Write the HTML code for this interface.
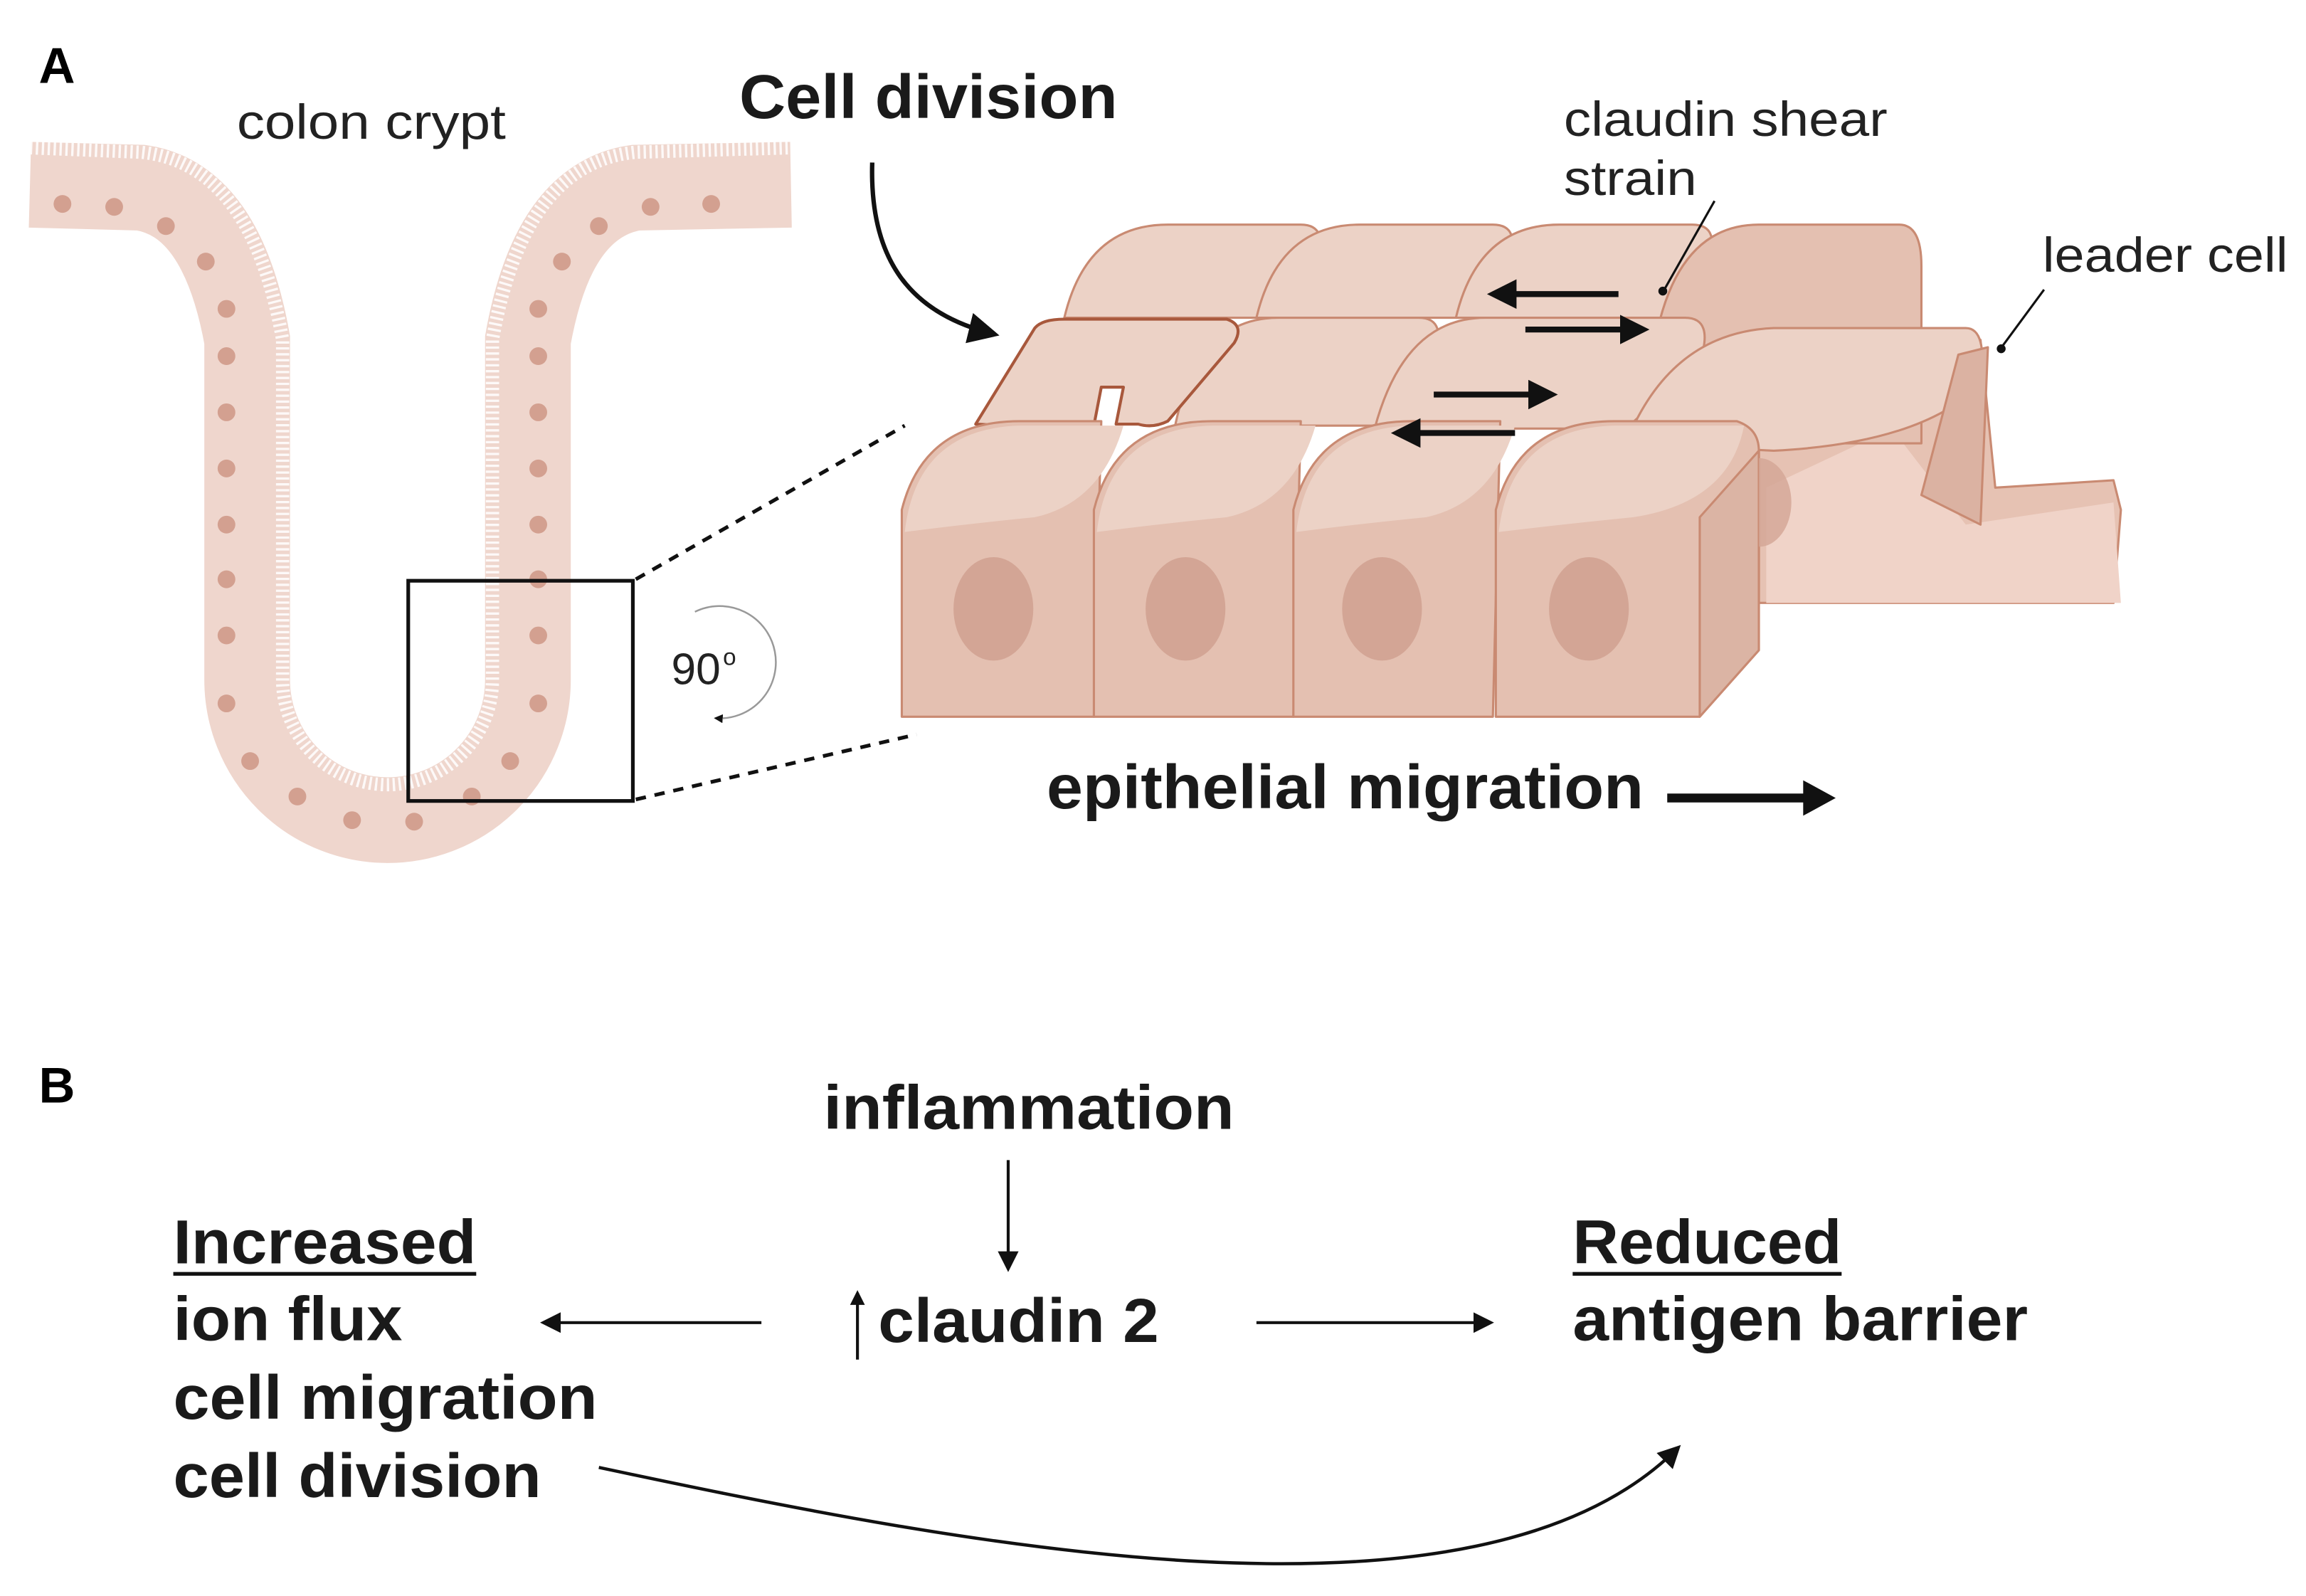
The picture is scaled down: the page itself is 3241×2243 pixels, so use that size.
<!DOCTYPE html>
<html><head><meta charset="utf-8"><style>html,body{margin:0;padding:0;background:#fff}svg{display:block}</style></head>
<body>
<svg width="3241" height="2243" viewBox="0 0 1560 1080" xmlns="http://www.w3.org/2000/svg" font-family="Liberation Sans, sans-serif">
<defs>
<marker id="ah" viewBox="0 0 10 10" refX="8" refY="5" markerWidth="5" markerHeight="5" orient="auto"><path d="M0,0 L10,5 L0,10 Z" fill="#111"/></marker>
<marker id="ah2" viewBox="0 0 10 10" refX="8" refY="5" markerWidth="7" markerHeight="7" orient="auto"><path d="M0,0 L10,5 L0,10 Z" fill="#111"/></marker>
</defs>
<rect width="1560" height="1080" fill="#fff"/>
<!-- Panel A -->
<text x="26" y="56" font-size="34" font-weight="bold">A</text>
<text x="160" y="94" font-size="33" fill="#222" textLength="182" lengthAdjust="spacingAndGlyphs">colon crypt</text>
<!-- crypt -->
<path d="M20,125 L95,127 Q150,135 167,230 L167,460 A95,95 0 0 0 357,460 L357,230 Q374,135 430,127 L535,125" fill="none" stroke="#efd6cd" stroke-width="58"/>
<path d="M20,100 L95,103 Q170,110 191,230 L191,460 A71,71 0 0 0 333,460 L333,230 Q354,110 430,103 L535,100" fill="none" stroke="#fff" stroke-width="9" stroke-dasharray="1.6 2.4" opacity="0.85"/>
<g fill="#d3a090">
<circle cx="42" cy="138" r="6"/><circle cx="77" cy="140" r="6"/><circle cx="112" cy="153" r="6"/><circle cx="139" cy="177" r="6"/>
<circle cx="481" cy="138" r="6"/><circle cx="440" cy="140" r="6"/><circle cx="405" cy="153" r="6"/><circle cx="380" cy="177" r="6"/>
<circle cx="153" cy="209" r="6"/><circle cx="153" cy="241" r="6"/><circle cx="153" cy="279" r="6"/><circle cx="153" cy="317" r="6"/><circle cx="153" cy="355" r="6"/><circle cx="153" cy="392" r="6"/><circle cx="153" cy="430" r="6"/><circle cx="153" cy="476" r="6"/>
<circle cx="364" cy="209" r="6"/><circle cx="364" cy="241" r="6"/><circle cx="364" cy="279" r="6"/><circle cx="364" cy="317" r="6"/><circle cx="364" cy="355" r="6"/><circle cx="364" cy="392" r="6"/><circle cx="364" cy="430" r="6"/><circle cx="364" cy="476" r="6"/>
<circle cx="169" cy="515" r="6"/><circle cx="201" cy="539" r="6"/><circle cx="238" cy="555" r="6"/><circle cx="280" cy="556" r="6"/><circle cx="319" cy="539" r="6"/><circle cx="345" cy="515" r="6"/>
</g>
<rect x="276" y="393" width="152" height="149" fill="none" stroke="#111" stroke-width="2.5"/>
<line x1="430" y1="392" x2="612" y2="288" stroke="#111" stroke-width="2.5" stroke-dasharray="7 6"/>
<line x1="430" y1="541" x2="620" y2="497" stroke="#111" stroke-width="2.5" stroke-dasharray="7 6"/>
<path d="M470,414 A38,38 0 1 1 484,486" fill="none" stroke="#999" stroke-width="1.2" marker-end="url(#ah)"/>
<text x="454" y="463" font-size="30" fill="#222">90</text><text x="489" y="450" font-size="16" fill="#222">o</text>
<!-- labels -->
<text x="500" y="80" font-size="42" font-weight="bold" fill="#1a1a1a" textLength="256" lengthAdjust="spacingAndGlyphs">Cell division</text>
<text x="1058" y="92" font-size="33" fill="#222" textLength="219" lengthAdjust="spacingAndGlyphs">claudin shear</text>
<text x="1058" y="132" font-size="33" fill="#222" textLength="90" lengthAdjust="spacingAndGlyphs">strain</text>
<text x="1382" y="184" font-size="33" fill="#222" textLength="166" lengthAdjust="spacingAndGlyphs">leader cell</text>
<path d="M590,110 C588,175 615,212 672,226" fill="none" stroke="#111" stroke-width="3" marker-end="url(#ah2)"/>
<!-- cells -->
<g stroke="#c98a72" stroke-width="1.5" stroke-linejoin="round">
<path d="M1190,300 L1270,230 L1340,230 L1350,330 L1430,325 L1435,345 L1430,408 L1190,408 Z" fill="#e6c2b3"/>
<path d="M1195,330 L1280,290 L1330,355 L1430,340 L1435,408 L1195,408 Z" fill="#f0d3c8" stroke="none"/>
<path d="M720,215 Q735,152 790,152 L880,152 Q900,152 890,180 L860,215 Z" fill="#ecd2c6"/>
<path d="M850,215 Q865,152 920,152 L1010,152 Q1030,152 1020,180 L990,215 Z" fill="#ecd2c6"/>
<path d="M985,215 Q1000,152 1055,152 L1145,152 Q1165,152 1155,180 L1125,215 Z" fill="#ecd2c6"/>
<path d="M1120,230 Q1135,152 1190,152 L1285,152 Q1300,152 1300,180 L1300,300 L1200,300 Z" fill="#e4c0b1"/>
<path d="M795,288 Q810,215 865,215 L960,215 Q980,215 970,245 L935,288 Z" fill="#ecd2c6"/>
<path d="M930,290 Q950,215 1005,215 L1140,215 Q1160,215 1150,245 L1100,290 Z" fill="#ecd2c6"/>
<path d="M1100,300 Q1130,225 1200,222 L1330,222 Q1345,222 1340,260 Q1300,300 1200,305 Z" fill="#ecd2c6"/>
<path d="M1325,240 L1345,235 L1340,355 L1300,335 Z" fill="#dbb2a2"/>
<path d="M660,287 L700,222 Q705,216 720,216 L830,216 Q842,220 835,232 L790,285 Q780,290 770,287 L755,287 L760,262 L745,262 L740,288 Q735,292 725,290 Z" fill="#ecd2c6" stroke="#a8583c" stroke-width="2"/>
<path d="M610,485 L610,345 Q625,285 690,285 L745,285 L740,485 Z" fill="#e4c0b1"/>
<path d="M740,485 L740,345 Q755,285 820,285 L880,285 L875,485 Z" fill="#e4c0b1"/>
<path d="M875,485 L875,345 Q890,285 955,285 L1015,285 L1010,485 Z" fill="#e4c0b1"/>
<path d="M1012,485 L1012,345 Q1027,285 1092,285 L1175,285 Q1190,290 1190,305 L1190,440 L1150,485 Z" fill="#e4c0b1"/>
<path d="M612,360 Q620,290 690,288 L760,288 Q745,340 700,350 Q650,355 612,360 Z" fill="#ecd2c6" stroke="none"/>
<path d="M742,360 Q750,290 820,288 L890,288 Q875,340 830,350 Q780,355 742,360 Z" fill="#ecd2c6" stroke="none"/>
<path d="M877,360 Q885,290 955,288 L1025,288 Q1010,340 965,350 Q915,355 877,360 Z" fill="#ecd2c6" stroke="none"/>
<path d="M1014,360 Q1022,290 1092,288 L1180,288 Q1170,340 1105,350 Q1055,355 1014,360 Z" fill="#ecd2c6" stroke="none"/>
<path d="M1150,350 L1190,305 L1190,440 L1150,485 Z" fill="#dbb4a4"/>
</g>
<g fill="#d3a595">
<ellipse cx="672" cy="412" rx="27" ry="35"/><ellipse cx="802" cy="412" rx="27" ry="35"/><ellipse cx="935" cy="412" rx="27" ry="35"/><ellipse cx="1075" cy="412" rx="27" ry="35"/>
<path d="M1190,310 A22,30 0 0 1 1190,370 Z" opacity="0.8"/>
</g>
<line x1="1160" y1="136" x2="1126" y2="196" stroke="#111" stroke-width="1.5"/><circle cx="1125" cy="197" r="3" fill="#111"/>
<line x1="1383" y1="196" x2="1355" y2="234" stroke="#111" stroke-width="1.5"/><circle cx="1354" cy="236" r="3" fill="#111"/>
<g stroke="#111" stroke-width="4" marker-end="url(#ah)">
<line x1="1095" y1="199" x2="1010" y2="199"/>
<line x1="1032" y1="223" x2="1112" y2="223"/>
<line x1="970" y1="267" x2="1050" y2="267"/>
<line x1="1025" y1="293" x2="945" y2="293"/>
</g>
<text x="708" y="547" font-size="42" font-weight="bold" fill="#1a1a1a" textLength="404" lengthAdjust="spacingAndGlyphs">epithelial migration</text>
<line x1="1128" y1="540" x2="1225" y2="540" stroke="#111" stroke-width="6"/>
<path d="M1220,528 L1242,540 L1220,552 Z" fill="#111"/>
<!-- Panel B -->
<text x="26" y="746" font-size="34" font-weight="bold">B</text>
<g font-size="42" font-weight="bold" fill="#1a1a1a" lengthAdjust="spacingAndGlyphs">
<text x="557" y="764" textLength="278" lengthAdjust="spacingAndGlyphs">inflammation</text>
<text x="117" y="855" textLength="205" lengthAdjust="spacingAndGlyphs">Increased</text>
<text x="117" y="907" textLength="155" lengthAdjust="spacingAndGlyphs">ion flux</text>
<text x="117" y="960" textLength="287" lengthAdjust="spacingAndGlyphs">cell migration</text>
<text x="117" y="1013" textLength="249" lengthAdjust="spacingAndGlyphs">cell division</text>
<text x="1064" y="855" textLength="182" lengthAdjust="spacingAndGlyphs">Reduced</text>
<text x="1064" y="907" textLength="308" lengthAdjust="spacingAndGlyphs">antigen barrier</text>
<text x="594" y="908" textLength="190" lengthAdjust="spacingAndGlyphs">claudin 2</text>
</g>
<line x1="117" y1="862" x2="322" y2="862" stroke="#111" stroke-width="2.5"/>
<line x1="1064" y1="862" x2="1246" y2="862" stroke="#111" stroke-width="2.5"/>
<line x1="580" y1="920" x2="580" y2="875" stroke="#111" stroke-width="2" marker-end="url(#ah)"/>
<line x1="682" y1="785" x2="682" y2="858" stroke="#111" stroke-width="2" marker-end="url(#ah2)"/>
<line x1="515" y1="895" x2="368" y2="895" stroke="#111" stroke-width="2" marker-end="url(#ah2)"/>
<line x1="850" y1="895" x2="1008" y2="895" stroke="#111" stroke-width="2" marker-end="url(#ah2)"/>
<path d="M405,993 C650,1045 1000,1115 1135,980" fill="none" stroke="#111" stroke-width="2.2" marker-end="url(#ah2)"/>
</svg>
</body></html>
